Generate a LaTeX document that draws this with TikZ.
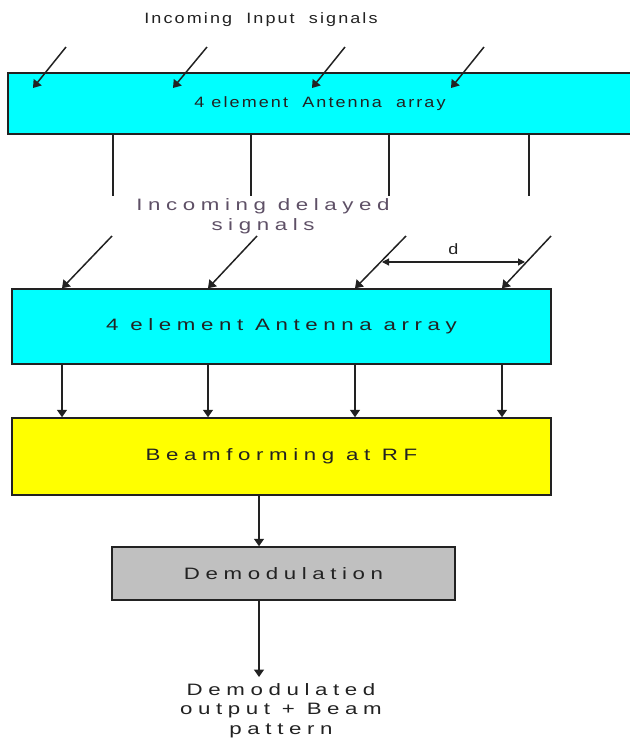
\documentclass[tikz,border=0pt]{standalone}
\usepackage{fontspec}
\setmainfont{Liberation Sans}
\newfontfamily\openfont[FakeStretch=1.2, LetterSpace=14]{Liberation Sans}
\newfontfamily\widefont[FakeStretch=1.35, LetterSpace=34]{Liberation Sans}
\usetikzlibrary{arrows.meta}
\definecolor{aqua}{HTML}{00FFFF}
\definecolor{lemon}{HTML}{FFFF00}
\definecolor{silver}{HTML}{C0C0C0}
\definecolor{edge}{HTML}{222222}
\definecolor{mauve}{HTML}{5E5066}
\tikzset{
  block/.style={
    rectangle, draw=edge, line width=1.5pt, inner sep=0pt,
    align=center, text=edge, font=\widefont\fontsize{16.5}{18}\selectfont
  },
  aquabox/.style={block, fill=aqua},
  lemonbox/.style={block, fill=lemon},
  silverbox/.style={block, fill=silver},
  topbox/.style={aquabox, font=\openfont\fontsize{15}{18}\selectfont},
  note/.style={font=\openfont\fontsize{15}{18}\selectfont, text=edge, align=center},
  widenote/.style={font=\widefont\fontsize{16.5}{20.5}\selectfont, text=edge, align=center, inner sep=0pt},
  feed/.style={-{Triangle[length=7.5pt,width=10pt]}, line width=1.5pt, draw=edge},
  wire/.style={line width=1.5pt, draw=edge},
  dim/.style={{Triangle[length=7pt,width=7pt]}-{Triangle[length=7pt,width=7pt]}, line width=1.1pt, draw=edge},
}
\begin{document}
\begin{tikzpicture}[x=1pt, y=-1pt]
  \clip (0,0) rectangle (630,740);

  % first array with the plane wave coming in
  \node[note] (intitle) at (261,20) {Incoming\ \ Input\ \ signals};
  \node[topbox, minimum width=624pt, minimum height=61pt] (array1) at (320,103.5) {4 element\ \ Antenna\ \ array};

  \coordinate (in1) at (66,47);  \coordinate (hit1) at (33,88);
  \coordinate (in2) at (207,47); \coordinate (hit2) at (173,88);
  \coordinate (in3) at (345,47); \coordinate (hit3) at (312,88);
  \coordinate (in4) at (484,47); \coordinate (hit4) at (451,88);
  \draw[feed] (in1) -- (hit1);
  \draw[feed] (in2) -- (hit2);
  \draw[feed] (in3) -- (hit3);
  \draw[feed] (in4) -- (hit4);

  \coordinate (tap1) at (113,196);
  \coordinate (tap2) at (251,196);
  \coordinate (tap3) at (389,196);
  \coordinate (tap4) at (529,196);
  \draw[wire] (array1.south -| tap1) -- (tap1);
  \draw[wire] (array1.south -| tap2) -- (tap2);
  \draw[wire] (array1.south -| tap3) -- (tap3);
  \draw[wire] (array1.south -| tap4) -- (tap4);

  \node[widenote, text=mauve] (delay) at (263,216) {Incoming delayed\\signals};

  % second array, elements spaced by d
  \node[aquabox, minimum width=539pt, minimum height=75pt] (array2) at (281.5,326.5) {4 element Antenna array};

  \coordinate (el1) at (62,0);
  \coordinate (el2) at (208,0);
  \coordinate (el3) at (355,0);
  \coordinate (el4) at (502,0);
  \coordinate (dl1) at (112,236);
  \coordinate (dl2) at (257,236);
  \coordinate (dl3) at (406,236);
  \coordinate (dl4) at (551,236);
  \draw[feed] (dl1) -- (array2.north -| el1);
  \draw[feed] (dl2) -- (array2.north -| el2);
  \draw[feed] (dl3) -- (array2.north -| el3);
  \draw[feed] (dl4) -- (array2.north -| el4);

  \coordinate (dleft) at (382,262);
  \coordinate (dright) at (525,262);
  \draw[dim] (dleft) -- (dright) node[midway, above=3pt, font=\openfont\fontsize{15}{18}\selectfont, text=edge] {d};

  % beamformer and demodulator chain
  \node[lemonbox, minimum width=539pt, minimum height=77pt] (beam) at (281.5,456.5) {Beamforming at RF};
  \draw[feed] (array2.south -| el1) -- (beam.north -| el1);
  \draw[feed] (array2.south -| el2) -- (beam.north -| el2);
  \draw[feed] (array2.south -| el3) -- (beam.north -| el3);
  \draw[feed] (array2.south -| el4) -- (beam.north -| el4);

  \node[silverbox, minimum width=343pt, minimum height=53pt] (demod) at (283.5,573.5) {Demodulation};

  \coordinate (trunk) at (259,0);
  \coordinate (outtip) at (259,677);
  \draw[feed] (beam.south -| trunk) -- (demod.north -| trunk);
  \draw[feed] (demod.south -| trunk) -- (outtip);

  \node[widenote, anchor=north, font=\widefont\fontsize{16.5}{19.5}\selectfont] (output) at (281,683) {Demodulated\\output + Beam\\pattern};
\end{tikzpicture}
\end{document}
